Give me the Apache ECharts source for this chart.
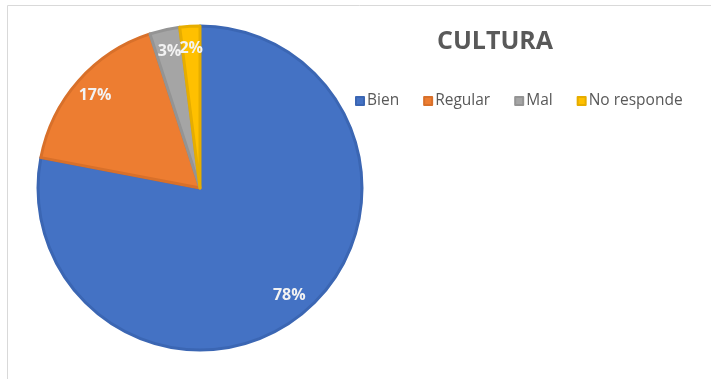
<!DOCTYPE html>
<html><head><meta charset="utf-8">
<script src="https://cdn.jsdelivr.net/npm/echarts@6/dist/echarts.min.js"></script>
<style>html,body{margin:0;padding:0;background:#fff}#c{width:711px;height:379px}</style>
</head><body><div id="c"></div>
<script>
const categories = ['Bien', 'Regular', 'Mal', 'No responde'];
const values = [78, 17, 3, 2];
const colors = ['#4472C4', '#ED7D31', '#A5A5A5', '#FFC000'];
const borderColors = ['#3B66B3', '#D8702A', '#949494', '#E6AD00'];
const titleText = 'CULTURA';

const chart = echarts.init(document.getElementById('c'));
const data = categories.map((n, i) => ({
  name: n, value: values[i],
  itemStyle: { color: colors[i], borderColor: borderColors[i], borderWidth: 3 }
}));
const labelData = categories.map((n, i) => ({ name: n, value: values[i] }));
chart.setOption({
  animation: false,
  title: {
    text: titleText, left: 490, top: 24, textAlign: 'center',
    textStyle: { fontFamily: 'Open Sans', fontWeight: 'bold', fontSize: 25, color: '#595959' }
  },
  legend: {
    data: categories, left: 350, top: 88, itemWidth: 8, itemHeight: 8, itemGap: 24,
    icon: 'rect',
    textStyle: { fontFamily: 'Open Sans', fontSize: 15.5, color: '#595959', padding: [0, 0, 0, -2] }
  },
  graphic: [{
    type: 'rect', shape: { x: 7.5, y: 5.5, width: 760, height: 420 },
    style: { fill: 'none', stroke: '#D9D9D9', lineWidth: 1 }, silent: true, z: -10
  }],
  series: [{
    type: 'pie', center: [200, 188], radius: [0, 162], startAngle: 90, clockwise: true,
    data: data, label: { show: false }, labelLine: { show: false }, silent: true
  }, {
    type: 'pie', center: [200, 188], radius: [112, 162], startAngle: 90, clockwise: true,
    data: labelData, silent: true, avoidLabelOverlap: false,
    labelLayout: { hideOverlap: false },
    itemStyle: { color: 'rgba(0,0,0,0)', borderWidth: 0 },
    label: {
      show: true, position: 'inside', formatter: '{d}%',
      fontFamily: 'Open Sans', fontWeight: 'bold', fontSize: 16, color: '#F2F2F2'
    },
    labelLine: { show: false }
  }]
});
</script></body></html>
